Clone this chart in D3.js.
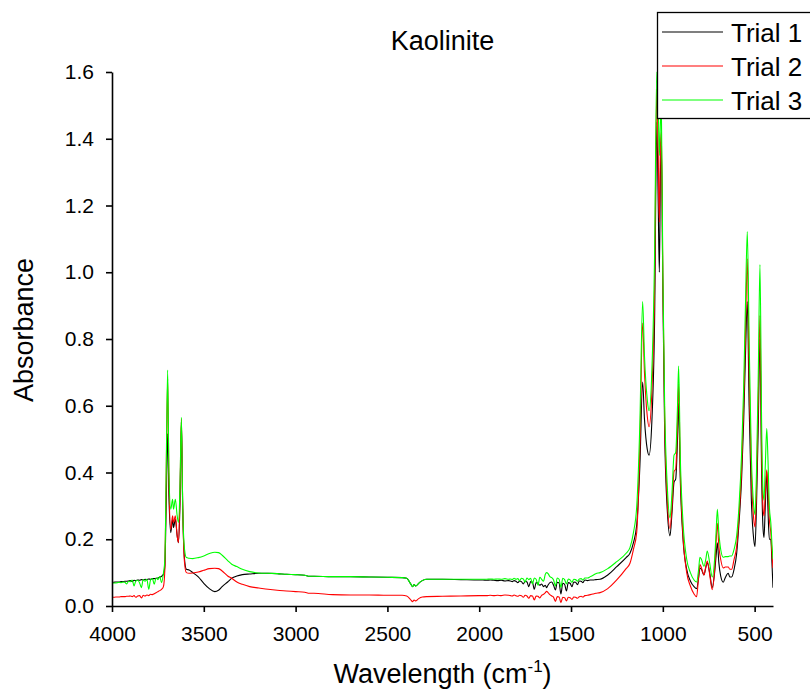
<!DOCTYPE html>
<html>
<head>
<meta charset="utf-8">
<script src="https://cdn.jsdelivr.net/npm/d3@7"></script>
<style>
  body { margin: 0; background: #fff; }
  svg { display: block; font-family: "Liberation Sans", Arial, sans-serif; }
</style>
</head>
<body>
<svg id="chart" width="810" height="696"></svg>
<script>
// wavenumbers (cm-1), shared by all three trials
const wavenumbers = [
    4000,3990,3980,3970,3960,3950,3940,3930,3920,3910,
    3900,3890,3880,3870,3860,3850,3840,3830,3820,3810,
    3800,3790,3780,3770,3760,3750,3740,3730,3720,
    3712,3705,3697,3690,3680,3670,3665,3655,3645,3638,3630,3622,3615,3605,3595,3580,
    3560,3530,3500,3470,3440,3420,3400,3370,3348,3320,
    3290,3250,3200,3150,3100,3050,3000,2950,2925,2900,
    2800,2700,2600,2500,2420,2395,2375,2362,2355,2345,
    2330,2310,2286,2200,2100,2000,
    1980,1960,1940,1920,1900,1880,1860,1840,1830,1820,
    1810,1800,1790,1780,1770,1760,1750,1740,1730,1720,
    1710,1700,1690,1680,1670,1660,1650,1640,1633,1625,
    1615,1605,1595,1585,1575,1565,1555,1545,1535,1525,
    1515,1505,1495,1485,1475,1465,1455,1445,1435,1425,
    1410,1395,1380,1365,
    1342,1300,1251,1200,1179,1160,1142,1125,1110,1100,
    1085,1075,1060,1045,1033,1025,1019,1013,1008,1000,
    990,975,961,950,939,930,920,914,905,890,
    870,850,830,816,805,798,790,776,766,758,
    745,731,718,710,703,695,685,671,660,644,
    635,625,612,598,585,571,560,550,540,530,
    518,505,498,490,480,471,462,455,449,442,
    434,428,420,412,405,400
];

const trial1 = [
    .071,.071,.072,.072,.072,.073,.073,.074,.074,.075,
    .076,.073,.077,.076,.078,.077,.079,.078,.080,.079,
    .081,.080,.082,.082,.083,.084,.086,.089,.095,
    .120,.300,.517,.330,.220,.260,.235,.260,.210,.190,.300,.550,.300,.140,.110,.108,
    .100,.087,.068,.052,.043,.047,.058,.072,.083,.090,
    .094,.096,.098,.098,.097,.095,.094,.092,.089,.089,
    .088,.088,.087,.086,.085,.083,.068,.058,.064,.060,
    .068,.076,.080,.080,.079,.078,
    .078,.077,.078,.077,.076,.077,.075,.076,.075,.073,
    .076,.074,.070,.075,.073,.066,.074,.072,.058,.073,
    .071,.050,.070,.068,.062,.066,.058,.062,.055,.063,
    .070,.072,.062,.048,.071,.069,.036,.068,.065,.045,
    .070,.068,.058,.072,.071,.064,.075,.074,.070,.078,
    .076,.078,.078,.079,
    .080,.093,.118,.145,.158,.190,.245,.420,.671,.560,
    .470,.452,.550,.850,1.45,1.20,1.00,1.30,1.38,.950,
    .520,.280,.210,.280,.371,.380,.500,.607,.380,.200,
    .110,.075,.058,.052,.085,.114,.110,.093,.115,.130,
    .100,.055,.100,.150,.189,.130,.090,.071,.085,.098,
    .087,.087,.110,.157,.250,.382,.550,.750,.912,.600,
    .320,.200,.178,.300,.550,.800,.400,.240,.205,.300,
    .403,.300,.200,.200,.120,.055
];

const trial2 = [
    .026,.026,.027,.027,.027,.028,.028,.028,.029,.029,
    .030,.028,.031,.026,.030,.031,.024,.032,.030,.033,
    .031,.035,.034,.037,.040,.043,.046,.050,.058,
    .110,.380,.680,.380,.230,.270,.250,.270,.210,.190,.330,.560,.300,.130,.100,.098,
    .099,.102,.107,.112,.113,.112,.105,.090,.083,.072,
    .065,.058,.054,.050,.047,.045,.043,.041,.038,.038,
    .034,.033,.033,.032,.032,.030,.020,.013,.018,.015,
    .022,.027,.028,.029,.030,.031,
    .031,.031,.032,.031,.032,.031,.033,.032,.031,.030,
    .033,.031,.029,.032,.031,.026,.032,.030,.023,.031,
    .030,.018,.030,.029,.024,.032,.035,.040,.044,.040,
    .034,.030,.026,.014,.028,.027,.010,.026,.025,.015,
    .026,.025,.020,.027,.026,.023,.028,.029,.027,.031,
    .032,.034,.036,.038,
    .040,.052,.078,.112,.128,.170,.222,.480,.848,.700,
    .570,.537,.640,.950,1.55,1.35,1.15,1.38,1.42,.980,
    .560,.310,.232,.300,.403,.410,.550,.666,.410,.210,
    .100,.060,.036,.028,.090,.124,.115,.093,.118,.135,
    .095,.049,.110,.190,.248,.180,.140,.114,.117,.117,
    .110,.110,.140,.178,.270,.413,.600,.820,1.04,.700,
    .400,.260,.237,.350,.620,.870,.460,.300,.270,.340,
    .408,.360,.260,.220,.150,.114
];

const trial3 = [
    .068,.069,.069,.070,.071,.070,.072,.071,.066,.074,
    .073,.078,.060,.075,.077,.070,.055,.079,.074,.080,
    .050,.078,.082,.065,.084,.079,.088,.070,.098,
    .140,.400,.707,.400,.290,.320,.290,.320,.270,.250,.350,.565,.300,.170,.145,.143,
    .142,.145,.150,.157,.161,.160,.152,.136,.125,.118,
    .110,.103,.099,.098,.097,.095,.094,.092,.089,.089,
    .088,.088,.087,.086,.085,.083,.068,.058,.064,.060,
    .068,.076,.080,.080,.080,.080,
    .080,.080,.081,.080,.081,.080,.082,.080,.081,.079,
    .083,.080,.082,.076,.083,.081,.072,.084,.079,.083,
    .066,.084,.080,.062,.086,.080,.074,.095,.100,.097,
    .088,.085,.078,.060,.084,.080,.056,.083,.079,.066,
    .081,.078,.071,.080,.079,.074,.081,.082,.078,.084,
    .084,.088,.092,.097,
    .100,.112,.133,.158,.175,.220,.300,.550,.912,.750,
    .620,.585,.700,1.05,1.60,1.50,1.35,1.45,1.49,1.00,
    .600,.350,.264,.340,.452,.460,.600,.719,.450,.250,
    .140,.100,.078,.072,.110,.146,.140,.119,.140,.165,
    .130,.087,.140,.220,.290,.220,.170,.146,.148,.148,
    .150,.150,.170,.210,.300,.457,.650,.900,1.122,.800,
    .450,.300,.274,.400,.700,1.023,.550,.350,.317,.420,
    .532,.450,.300,.250,.180,.140
];

const seriesNames = ['Trial 1', 'Trial 2', 'Trial 3'];
const seriesColors = ['#000000', '#ff0000', '#00ff00'];

const xMajorTicks = [4000, 3500, 3000, 2500, 2000, 1500, 1000, 500];
const xMinorTicks = [3750, 3250, 2750, 2250, 1750, 1250, 750];
const yMajorTicks = [0, 0.2, 0.4, 0.6, 0.8, 1.0, 1.2, 1.4, 1.6];
const yMinorTicks = [0.1, 0.3, 0.5, 0.7, 0.9, 1.1, 1.3, 1.5];

class SpectrumChart {
    constructor(ele_id) {
        this.svg = d3.select('#' + ele_id);
        this.left = 112;
        this.right = 773;
        this.top = 72;
        this.bottom = 606;

        this.x = d3.scaleLinear().domain([4000, 400]).range([this.left, this.right]);
        this.y = d3.scaleLinear().domain([0, 1.6]).range([this.bottom, this.top]);
    }

    drawLines(seriesList) {
        let x = this.x, y = this.y;
        let line = d3.line()
            .x(function(d) { return x(d[0]); })
            .y(function(d) { return y(d[1]); })
            .curve(d3.curveMonotoneX);

        this.svg.append('clipPath').attr('id', 'plot-clip')
            .append('rect')
            .attr('x', this.left).attr('y', this.top - 1)
            .attr('width', this.right - this.left).attr('height', this.bottom - this.top + 1);

        this.svg.append('g')
            .attr('clip-path', 'url(#plot-clip)')
            .selectAll('path')
            .data(seriesList)
            .enter()
            .append('path')
            .attr('d', function(s) { return line(d3.zip(wavenumbers, s.values)); })
            .attr('fill', 'none')
            .attr('stroke', function(s) { return s.color; })
            .attr('stroke-width', 1.1)
            .attr('stroke-linejoin', 'round');
    }

    drawAxes() {
        let xg = this.svg.append('g').attr('transform', 'translate(0,' + this.bottom + ')');
        xg.call(d3.axisBottom(this.x).tickValues(xMinorTicks).tickSize(3).tickSizeOuter(0).tickFormat(''));
        xg.call(d3.axisBottom(this.x).tickValues(xMajorTicks).tickSize(6).tickSizeOuter(0)
            .tickPadding(14).tickFormat(d3.format('d')));

        let yg = this.svg.append('g').attr('transform', 'translate(' + this.left + ',0)');
        yg.call(d3.axisLeft(this.y).tickValues(yMinorTicks).tickSize(3).tickSizeOuter(0).tickFormat(''));
        yg.call(d3.axisLeft(this.y).tickValues(yMajorTicks).tickSize(6).tickSizeOuter(0)
            .tickPadding(12).tickFormat(d3.format('.1f')));

        this.svg.selectAll('.domain, .tick line')
            .attr('stroke', '#000')
            .attr('stroke-width', 1.6);
        this.svg.selectAll('.tick text')
            .attr('fill', '#000')
            .style('font-size', '21px')
            .style('font-family', '"Liberation Sans", Arial, sans-serif');

        let mid = (this.left + this.right) / 2;

        this.svg.append('text')
            .attr('x', mid).attr('y', 50)
            .attr('text-anchor', 'middle')
            .style('font-size', '27px')
            .text('Kaolinite');

        let xt = this.svg.append('text')
            .attr('x', mid).attr('y', 683)
            .attr('text-anchor', 'middle')
            .style('font-size', '27px');
        xt.append('tspan').text('Wavelength (cm');
        xt.append('tspan').attr('dy', -11).style('font-size', '17px').text('-1');
        xt.append('tspan').attr('dy', 11).text(')');

        this.svg.append('text')
            .attr('transform', 'translate(33,' + 330 + ') rotate(-90)')
            .attr('text-anchor', 'middle')
            .style('font-size', '27px')
            .text('Absorbance');
    }

    drawLegend(seriesList) {
        let g = this.svg.append('g');
        g.append('rect')
            .attr('x', 657.5).attr('y', 12.5)
            .attr('width', 160).attr('height', 106)
            .attr('fill', '#fff')
            .attr('stroke', '#000')
            .attr('stroke-width', 1.3);

        let items = g.selectAll('g.item')
            .data(seriesList)
            .enter()
            .append('g')
            .attr('class', 'item')
            .attr('transform', function(d, i) { return 'translate(0,' + (32 + i * 34) + ')'; });

        items.append('line')
            .attr('x1', 662).attr('x2', 723)
            .attr('stroke', function(d) { return d.color; })
            .attr('stroke-width', 1.1);

        items.append('text')
            .attr('x', 731).attr('y', 10)
            .style('font-size', '26px')
            .text(function(d) { return d.name; });
    }
}

let seriesList = [trial1, trial2, trial3].map(function(values, i) {
    return { name: seriesNames[i], color: seriesColors[i], values: values };
});

let chart = new SpectrumChart('chart');
chart.drawLines(seriesList);
chart.drawAxes();
chart.drawLegend(seriesList);
</script>
</body>
</html>
